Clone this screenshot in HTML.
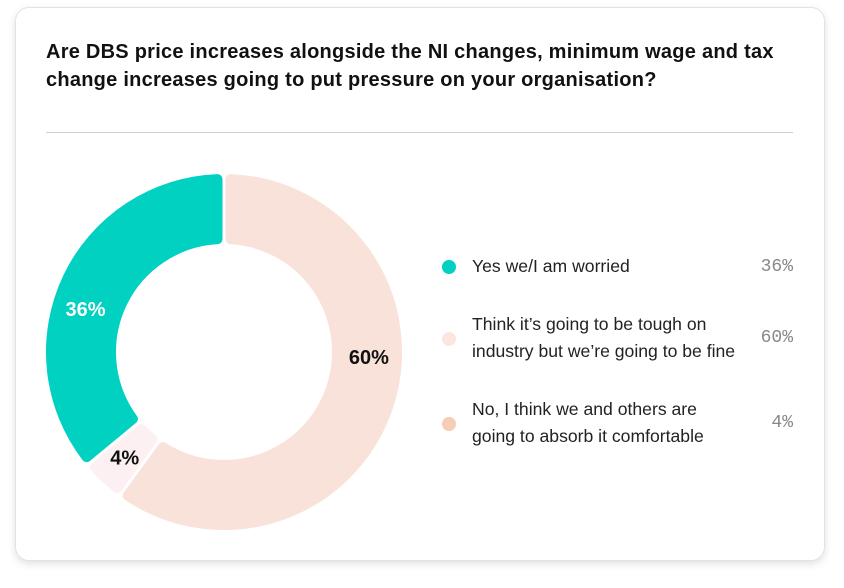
<!DOCTYPE html>
<html><head><meta charset="utf-8"><style>
body{margin:0;width:844px;height:588px;background:#fff;font-family:"Liberation Sans",sans-serif;overflow:hidden}
.card{position:absolute;left:15px;top:7px;width:808px;height:552px;border:1px solid #e2e2e2;border-radius:14px;box-shadow:0 3px 8px rgba(0,0,0,.12);background:#fff}
.title{position:absolute;left:46px;top:38px;width:750px;font-weight:bold;font-size:20px;letter-spacing:0.25px;line-height:28px;color:#111}
.rule{position:absolute;left:46px;top:132px;width:747px;height:1px;background:#cfcfcf}
.leg{position:absolute;left:472px;font-size:17.6px;line-height:27px;color:#222}
.dot{position:absolute;left:442px;width:14px;height:14px;border-radius:50%}
.pct{position:absolute;right:51px;font-family:"Liberation Mono",monospace;font-size:18px;color:#888}
</style></head><body>
<div class="card"></div>
<div class="title">Are DBS price increases alongside the NI changes, minimum wage and tax change increases going to put pressure on your organisation?</div>
<div class="rule"></div>
<svg id="donut" width="844" height="588" style="position:absolute;left:0;top:0"></svg>
<div class="dot" style="top:260px;background:#00d1c1"></div>
<div class="leg" style="top:253px">Yes we/I am worried</div>
<div class="pct" style="top:257px">36%</div>
<div class="dot" style="top:332px;background:#fbe7e0"></div>
<div class="leg" style="top:311px">Think it’s going to be tough on<br>industry but we’re going to be fine</div>
<div class="pct" style="top:328px">60%</div>
<div class="dot" style="top:417px;background:#f6cdb6"></div>
<div class="leg" style="top:396px">No, I think we and others are<br>going to absorb it comfortable</div>
<div class="pct" style="top:413px">4%</div>
<script>
const categories=["Think it's going to be tough","No, absorb comfortably","Yes worried"];
const values=[60,4,36];
const labels=["60%","4%","36%"];
const colors=["#f9e2da","#fdf0f2","#00d1c1"];
const labelColors=["#111","#111","#fff"];
const labelShift=[-16,0,-8];
const svg=document.getElementById('donut');
const cx=224,cy=352,R=178,r=108,inset=5,labelR=145;
const total=values.reduce((a,b)=>a+b,0);
const NS="http://www.w3.org/2000/svg";
function pt(rad,a){return [cx+rad*Math.sin(a),cy-rad*Math.cos(a)];}
let acc=0;
values.forEach((v,i)=>{
  const a0=acc/total*2*Math.PI, a1=(acc+v)/total*2*Math.PI; acc+=v;
  const Ro=R-inset, Ri=r+inset;
  const g0o=a0+(inset+1.5)/Ro, g1o=a1-(inset+1.5)/Ro;
  const g0i=a0+(inset+1.5)/Ri, g1i=a1-(inset+1.5)/Ri;
  const large=(g1o-g0o)>Math.PI?1:0;
  const p1=pt(Ro,g0o),p2=pt(Ro,g1o),p3=pt(Ri,g1i),p4=pt(Ri,g0i);
  const d=`M${p1} A${Ro},${Ro} 0 ${large} 1 ${p2} L${p3} A${Ri},${Ri} 0 ${large} 0 ${p4} Z`;
  const p=document.createElementNS(NS,'path');
  p.setAttribute('d',d);p.setAttribute('fill',colors[i]);p.setAttribute('stroke',colors[i]);
  p.setAttribute('stroke-width',inset*2);p.setAttribute('stroke-linejoin','round');
  
  
  svg.appendChild(p);
  const am=(a0+a1)/2+labelShift[i]*Math.PI/180, lp=pt(labelR,am);
  const t=document.createElementNS(NS,'text');
  t.setAttribute('x',lp[0]);t.setAttribute('y',lp[1]+7);
  t.setAttribute('text-anchor','middle');t.setAttribute('font-size','20');
  t.setAttribute('font-weight','bold');t.setAttribute('fill',labelColors[i]);
  t.setAttribute('font-family','Liberation Sans, sans-serif');
  t.textContent=labels[i];
  
  
  svg.appendChild(t);
});
</script>
</body></html>
